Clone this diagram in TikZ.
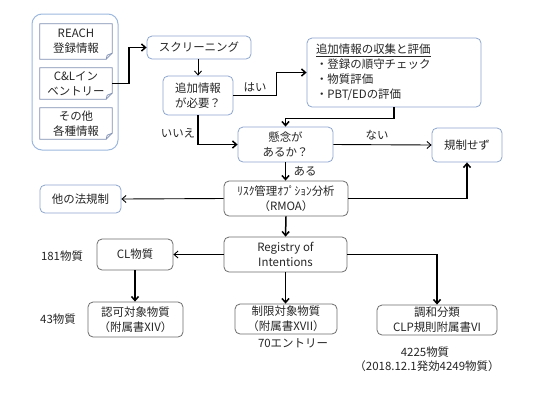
\documentclass[tikz,border=0pt]{standalone}
\usepackage{fontspec}
\setmainfont{Noto Sans CJK JP}
\usetikzlibrary{arrows.meta,calc}
\definecolor{bluebd}{HTML}{8EA6CF}
\definecolor{docbd}{HTML}{7F8FB3}
\definecolor{outerbd}{HTML}{9DB8DE}
\definecolor{graybd}{HTML}{6E6E6E}
\definecolor{txt}{HTML}{262626}
\begin{document}
\begin{tikzpicture}[x=1bp,y=-1bp,
  every node/.style={font=\fontsize{11.5}{15}\selectfont, text=txt, inner sep=0pt},
  bbox/.style={draw=bluebd, line width=0.8bp, rounded corners=5bp, align=center},
  gbox/.style={draw=graybd, line width=0.8bp, rounded corners=5bp, align=center},
  docbox/.style={align=center},
  docline/.style={draw=docbd, line width=0.8bp},
  arr/.style={draw=black, line width=1.5bp, -{Straight Barb[length=4bp,width=7bp]}},
  tarr/.style={draw=black, line width=0.9bp, -{Straight Barb[length=4bp,width=7bp]}},
  lbl/.style={}
]
\useasboundingbox (0,0) rectangle (550,413);
\fill[white] (0,0) rectangle (550,413);

% outer group
\node[draw=outerbd, line width=1bp, rounded corners=10bp, minimum width=86bp, minimum height=136bp] (outer) at (75,82) {};

% document boxes
\node[docbox, minimum width=72bp, minimum height=35bp] (d1) at (76,41.5) {REACH\\登録情報};
\node[docbox, minimum width=72bp, minimum height=31bp] (d2) at (76,83.5) {C\&Lイン\\ベントリー};
\node[docbox, minimum width=72bp, minimum height=31bp] (d3) at (76,123.5) {その他\\各種情報};
\foreach \d in {d1,d2,d3}{
  \draw[docline] (\d.north west) -- (\d.north east) -- ($(\d.south east)+(0,-6)$) -- ($(\d.south east)+(-6,0)$) -- (\d.south west) -- cycle;
  \draw[docline] ($(\d.south east)+(0,-6)$) -- ($(\d.south east)+(-5,-4)$) -- ($(\d.south east)+(-6,0)$);
}

% boxes
\node[bbox, minimum width=104bp, minimum height=23bp] (scr) at (199,47.5) {スクリーニング};
\node[bbox, minimum width=70bp, minimum height=39bp] (need) at (198,95.5) {追加情報\\が必要？};
\node[bbox, align=left, text width=156bp, inner xsep=9bp, minimum height=69bp] (coll) at (394,72.5)
  {\underline{追加情報の収集と評価}\\・登録の順守チェック\\・物質評価\\・PBT/EDの評価};
\node[bbox, minimum width=95bp, minimum height=35bp] (ken) at (285.5,144.5) {懸念が\\あるか？};
\node[bbox, minimum width=70bp, minimum height=34bp] (nok) at (467,145) {規制せず};
\node[gbox, minimum width=124bp, minimum height=35bp] (rmoa) at (286,198.5) {ﾘｽｸ管理ｵﾌﾟｼｮﾝ分析\\（RMOA）};
\node[bbox, minimum width=81bp, minimum height=28bp] (oth) at (80.5,199) {他の法規制};
\node[gbox, minimum width=123bp, minimum height=35bp] (reg) at (285.5,254.5) {Registry of\\Intentions};
\node[gbox, minimum width=76bp, minimum height=31bp] (cl) at (135,254.5) {CL物質};
\node[gbox, minimum width=95bp, minimum height=35bp] (auth) at (135.5,319.5) {認可対象物質\\（附属書XIV）};
\node[gbox, minimum width=102bp, minimum height=30bp] (res) at (286,319) {制限対象物質\\（附属書XVII）};
\node[gbox, minimum width=120bp, minimum height=30bp] (har) at (437,320) {調和分類\\CLP規則附属書VI};

% labels
\node (hai) at (255,87) {はい};
\node (iie) at (178,133) {いいえ};
\node (nai) at (377,135) {ない};
\node (aru) at (305,171) {ある};
\node (n181) at (62,256) {181物質};
\node (n43) at (58,319) {43物質};
\node (n70) at (293,343) {70エントリー};
\node (n4225) at (425,352) {4225物質};
\node (n4249) at (427,366) {（2018.12.1発効4249物質）};

% connectors
\draw[arr] (d2.east) -- ++(17,0) |- (scr.west);
\draw[tarr] (scr.south -| need.north) -- (need.north);
\draw[arr] (need.east) -- ++(43,0) |- (coll.west);
\draw[arr] (coll.south) -- ++(0,11) -| (ken.north);
\draw[arr] (need.south) |- (ken.west);
\draw[tarr] (ken.east) -- (nok.west);
\draw[arr] (ken.south) -- (ken.south |- rmoa.north);
\draw[arr] (rmoa.east) -| (nok.south);
\draw[tarr] (rmoa.west) -- (oth.east);
\draw[arr] (rmoa.south) -- (reg.north);
\draw[tarr] (reg.west) -- (cl.east);
\draw[arr] (cl.south) -- (cl.south |- auth.north);
\draw[arr] (reg.south) -- (reg.south |- res.north);
\draw[arr] (reg.east) -| (har.north);
\end{tikzpicture}
\end{document}
